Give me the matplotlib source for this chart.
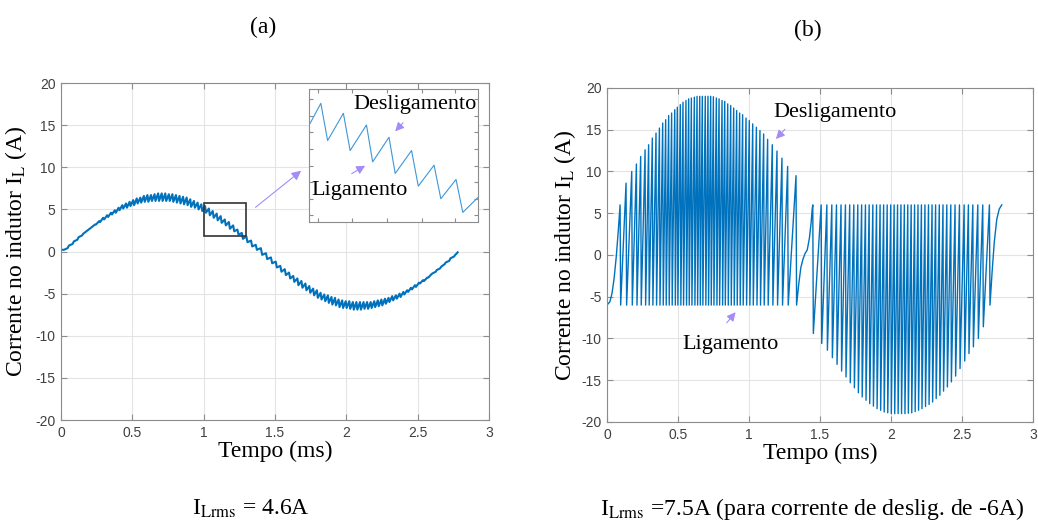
import matplotlib
matplotlib.use('Agg')
import matplotlib.pyplot as plt
from matplotlib.patches import Rectangle

# ---- data (time in ms, current in A) ----
tick_x = [0, 0.5, 1, 1.5, 2, 2.5, 3]
tick_x_labels = ['0', '0.5', '1', '1.5', '2', '2.5', '3']
tick_y = [-20, -15, -10, -5, 0, 5, 10, 15, 20]
tick_y_labels = ['-20', '-15', '-10', '-5', '0', '5', '10', '15', '20']

# (a) switching instants, ripple valley / peak of every period
a_sw_t = [0.020, 0.055, 0.090, 0.123, 0.155, 0.186, 0.216, 0.245, 0.274, 0.302,
          0.330, 0.357, 0.384, 0.410, 0.436, 0.462, 0.487, 0.512, 0.537, 0.562,
          0.587, 0.612, 0.637, 0.662, 0.687, 0.712, 0.737, 0.762, 0.787, 0.812,
          0.837, 0.862, 0.887, 0.912, 0.938, 0.964, 0.990, 1.016, 1.043, 1.070,
          1.098, 1.126, 1.155, 1.184, 1.214, 1.244, 1.275, 1.307, 1.340, 1.373,
          1.410, 1.445, 1.480, 1.513, 1.545, 1.576, 1.606, 1.635, 1.664, 1.692,
          1.720, 1.747, 1.774, 1.800, 1.826, 1.852, 1.877, 1.902, 1.927, 1.952,
          1.977, 2.002, 2.027, 2.052, 2.077, 2.102, 2.127, 2.152, 2.177, 2.202,
          2.227, 2.252, 2.277, 2.302, 2.328, 2.354, 2.380, 2.406, 2.433, 2.460,
          2.488, 2.516, 2.545, 2.574, 2.604, 2.634, 2.665, 2.697, 2.730, 2.763]
a_lo = [0.2, 0.7, 1.2, 1.7, 2.1, 2.5, 2.9, 3.2, 3.5, 3.8,
        4.1, 4.4, 4.6, 4.9, 5.1, 5.2, 5.4, 5.5, 5.7, 5.8,
        5.9, 5.9, 6.0, 6.0, 6.0, 6.0, 6.0, 6.0, 5.9, 5.8,
        5.7, 5.6, 5.5, 5.3, 5.2, 5.0, 4.8, 4.6, 4.3, 4.0,
        3.7, 3.4, 3.1, 2.7, 2.4, 2.0, 1.5, 1.1, 0.6, 0.2,
        -0.4, -0.9, -1.4, -1.9, -2.4, -2.8, -3.2, -3.6, -4.0, -4.3,
        -4.6, -4.9, -5.2, -5.5, -5.7, -5.9, -6.1, -6.3, -6.4, -6.6,
        -6.7, -6.7, -6.8, -6.9, -6.9, -6.9, -6.8, -6.8, -6.7, -6.6,
        -6.5, -6.4, -6.2, -6.0, -5.8, -5.6, -5.4, -5.1, -4.8, -4.5,
        -4.2, -3.8, -3.5, -3.1, -2.6, -2.2, -1.8, -1.3, -0.8, -0.4]
a_hi = [0.4, 0.9, 1.4, 1.9, 2.4, 2.8, 3.2, 3.6, 4.0, 4.3,
        4.6, 4.9, 5.2, 5.5, 5.7, 5.9, 6.1, 6.3, 6.4, 6.6,
        6.7, 6.7, 6.8, 6.9, 6.9, 6.9, 6.8, 6.8, 6.7, 6.6,
        6.5, 6.4, 6.2, 6.0, 5.8, 5.6, 5.4, 5.1, 4.8, 4.5,
        4.2, 3.8, 3.5, 3.1, 2.6, 2.2, 1.8, 1.3, 0.8, 0.4,
        -0.2, -0.7, -1.2, -1.7, -2.1, -2.5, -2.9, -3.2, -3.5, -3.8,
        -4.1, -4.4, -4.6, -4.9, -5.1, -5.2, -5.4, -5.5, -5.7, -5.8,
        -5.9, -5.9, -6.0, -6.0, -6.0, -6.0, -6.0, -6.0, -5.9, -5.8,
        -5.7, -5.6, -5.5, -5.3, -5.2, -5.0, -4.8, -4.6, -4.3, -4.0,
        -3.7, -3.4, -3.1, -2.7, -2.4, -2.0, -1.5, -1.1, -0.6, -0.2]
a_start = (0.0, 0.2)
a_end = (2.78, -0.1)

# (a) zoom window shown in the inset
zoom_t = [1.002, 1.021, 1.033, 1.061, 1.073, 1.102, 1.113, 1.142,
          1.153, 1.182, 1.194, 1.222, 1.234, 1.261, 1.273, 1.300]
zoom_i = [4.77, 5.37, 4.25, 5.07, 3.95, 4.72, 3.61, 4.35,
          3.26, 3.95, 2.88, 3.51, 2.50, 3.08, 2.09, 2.54]

# (b) turn-off current level
i_off = 6.0
b_start_t = [0.000, 0.020, 0.035, 0.050, 0.065, 0.078, 0.092]
b_start_i = [-6.0, -5.6, -4.6, -2.8, -0.2, 2.6, 6.0]
# positive half: peak of each spike (current falls back to -6 A)
b_pk_t = [0.134, 0.174, 0.207, 0.237, 0.268, 0.293, 0.319, 0.345, 0.369, 0.392,
          0.413, 0.434, 0.455, 0.477, 0.495, 0.516, 0.535, 0.556, 0.575, 0.594,
          0.615, 0.634, 0.653, 0.671, 0.692, 0.711, 0.730, 0.749, 0.770, 0.789,
          0.810, 0.829, 0.850, 0.871, 0.892, 0.913, 0.934, 0.955, 0.979, 1.002,
          1.026, 1.052, 1.077, 1.103, 1.131, 1.164, 1.197, 1.232, 1.272, 1.331]
b_pk_i = [8.6, 10.0, 10.9, 11.8, 12.6, 13.2, 14.0, 14.6, 15.2, 15.8,
          16.2, 16.7, 17.0, 17.4, 17.7, 18.0, 18.3, 18.5, 18.7, 18.8,
          18.9, 19.0, 19.0, 19.0, 19.0, 19.0, 19.0, 18.95, 18.8, 18.7,
          18.5, 18.4, 18.1, 17.9, 17.6, 17.3, 17.0, 16.8, 16.4, 16.1,
          15.7, 15.3, 14.9, 14.5, 13.85, 13.2, 12.45, 11.6, 10.6, 9.5]
b_mid_t = [1.350, 1.365, 1.380, 1.395, 1.410, 1.425, 1.437, 1.445]
b_mid_i = [-3.5, -1.5, -0.5, 0.2, 0.6, 2.0, 3.8, 5.5]
# negative half: trough of each spike (current rises back to +6 A)
b_tr_t = [1.453, 1.512, 1.552, 1.587, 1.620, 1.652, 1.683, 1.713, 1.742, 1.770,
          1.797, 1.824, 1.850, 1.876, 1.902, 1.927, 1.952, 1.977, 2.002, 2.026,
          2.050, 2.074, 2.098, 2.122, 2.146, 2.170, 2.194, 2.218, 2.243, 2.268,
          2.293, 2.318, 2.344, 2.370, 2.397, 2.425, 2.455, 2.486, 2.519, 2.549,
          2.580, 2.615, 2.650, 2.697]
b_tr_i = [-9.4, -10.6, -11.4, -12.3, -13.1, -13.9, -14.6, -15.3, -15.9, -16.5,
          -17.0, -17.4, -17.8, -18.1, -18.4, -18.6, -18.8, -18.9, -19.0, -19.0,
          -19.0, -19.0, -19.0, -18.95, -18.9, -18.75, -18.6, -18.4, -18.15, -17.9,
          -17.6, -17.2, -16.8, -16.3, -15.8, -15.2, -14.5, -13.6, -12.7, -11.8,
          -11.0, -10.0, -8.6, -6.0]
b_end_t = [2.712, 2.727, 2.745, 2.762, 2.780]
b_end_i = [-2.0, 1.5, 4.3, 5.5, 6.0]

# ---- style ----
plt.rcParams['font.family'] = ['Liberation Serif', 'DejaVu Serif']
plt.rcParams['mathtext.fontset'] = 'stix'
BLUE = '#0072BD'
ARROW = '#a48cf7'
GRID = '#e4e4e4'
SPINE = '#8c8c8c'
TICK = '#404040'
RISE = 0.75    # fraction of a period spent ramping up in (a)
FALL = 0.004   # duration of the fast edge in (b), ms

# build the polylines
a_x, a_y = [a_start[0]], [a_start[1]]
for k, t in enumerate(a_sw_t):
    nxt = a_sw_t[k + 1] if k + 1 < len(a_sw_t) else a_end[0]
    a_x += [t, t + RISE * (nxt - t)]
    a_y += [a_lo[k], a_hi[k]]
a_x.append(a_end[0])
a_y.append(a_end[1])

b_x, b_y = list(b_start_t), list(b_start_i)
b_x.append(b_start_t[-1] + FALL)
b_y.append(-i_off)
for t, v in zip(b_pk_t, b_pk_i):
    b_x += [t, t + FALL]
    b_y += [v, -i_off]
b_x += b_mid_t
b_y += b_mid_i
for t, v in zip(b_tr_t, b_tr_i):
    b_x += [t - FALL, t]
    b_y += [i_off, v]
b_x += b_end_t
b_y += b_end_i


def style_axes(ax, ylab_x):
    ax.set_xlim(0, 3)
    ax.set_ylim(-20, 20)
    ax.set_xticks(tick_x)
    ax.set_xticklabels(tick_x_labels, family='Liberation Sans', fontsize=10, color=TICK)
    ax.set_yticks(tick_y)
    ax.set_yticklabels(tick_y_labels, family='Liberation Sans', fontsize=10, color=TICK)
    ax.grid(True, color=GRID, lw=0.8)
    ax.set_axisbelow(True)
    ax.tick_params(direction='in', length=4, color=SPINE, top=True, right=True, pad=4)
    for s in ax.spines.values():
        s.set_color(SPINE)
        s.set_linewidth(0.8)
    ax.set_xlabel('Tempo (ms)', fontsize=17)
    ax.set_ylabel(r'Corrente no indutor I$_{\mathrm{L}}$ (A)', fontsize=17)
    ax.xaxis.set_label_coords(0.5, -0.062)
    ax.yaxis.set_label_coords(ylab_x, 0.5)


fig = plt.figure(figsize=(10.38, 5.25), dpi=100)
ax_a = fig.add_axes([0.0588, 0.2, 0.4123, 0.6419])
ax_b = fig.add_axes([0.5848, 0.1962, 0.4104, 0.6362])
style_axes(ax_a, -0.075)
style_axes(ax_b, -0.068)

# (a) waveform, zoom box and inset
ax_a.plot(a_x, a_y, color=BLUE, lw=1.5)
ax_a.add_patch(Rectangle((1.0, 1.8), 0.3, 4.0, fill=False, ec='#333333', lw=1.2, zorder=3))
ax_a.annotate('', xy=(1.698, 9.79), xytext=(1.348, 5.04),
              arrowprops=dict(arrowstyle='-|>', color=ARROW, lw=0.8, mutation_scale=14))

ins = fig.add_axes([0.2977, 0.5771, 0.1628, 0.2533])
ins.plot(zoom_t, zoom_i, color='#3d97d8', lw=0.8)
ins.set_xlim(1.0, 1.3)
ins.set_ylim(1.8, 5.8)
ins.set_xticks([1.016, 1.077, 1.138, 1.2, 1.259])
ins.set_yticks([2.0, 2.5, 3.0, 3.5, 4.0, 4.5, 5.0, 5.5])
ins.tick_params(direction='in', length=3, color=SPINE, top=True, right=True,
                labelbottom=False, labelleft=False)
for s in ins.spines.values():
    s.set_color(SPINE)
    s.set_linewidth(0.8)
ins.text(1.189, 5.32, 'Desligamento', fontsize=16, ha='center', va='center')
ins.text(1.0905, 2.76, 'Ligamento', fontsize=16, ha='center', va='center')
ins.annotate('', xy=(1.1496, 4.468), xytext=(1.1704, 4.847),
             arrowprops=dict(arrowstyle='-|>', color=ARROW, lw=0.8, mutation_scale=13))
ins.annotate('', xy=(1.104, 3.535), xytext=(1.0715, 3.214),
             arrowprops=dict(arrowstyle='-|>', color=ARROW, lw=0.8, mutation_scale=13))

# (b) waveform
ax_b.plot(b_x, b_y, color=BLUE, lw=1.0)
ax_b.text(1.606, 17.1, 'Desligamento', fontsize=16, ha='center', va='center')
ax_b.text(0.873, -10.66, 'Ligamento', fontsize=16, ha='center', va='center')
ax_b.annotate('', xy=(1.176, 13.65), xytext=(1.266, 15.29),
              arrowprops=dict(arrowstyle='-|>', color=ARROW, lw=0.8, mutation_scale=13))
ax_b.annotate('', xy=(0.918, -6.59), xytext=(0.831, -8.38),
              arrowprops=dict(arrowstyle='-|>', color=ARROW, lw=0.8, mutation_scale=13))

# panel titles and rms captions
fig.text(263 / 1038, 1 - 27 / 525, '(a)', fontsize=17, ha='center', va='center')
fig.text(808 / 1038, 1 - 30 / 525, '(b)', fontsize=17, ha='center', va='center')
fig.text(251 / 1038, 1 - 515 / 525, r'I$_{\mathrm{Lrms}}$ = 4.6A', fontsize=17,
         ha='center', va='baseline')
fig.text(812 / 1038, 1 - 515 / 525, r'I$_{\mathrm{Lrms}}$ =7.5A (para corrente de deslig. de -6A)',
         fontsize=17, ha='center', va='baseline')

fig.savefig('out.png', dpi=100)
